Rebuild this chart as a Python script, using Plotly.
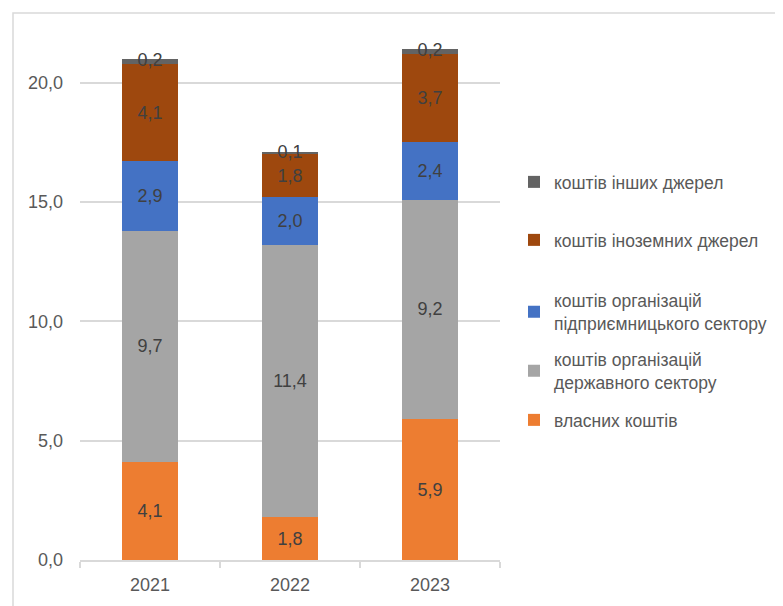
import plotly.graph_objects as go

years = ["2021", "2022", "2023"]
own = [4.1, 1.8, 5.9]
state = [9.7, 11.4, 9.2]
business = [2.9, 2.0, 2.4]
foreign = [4.1, 1.8, 3.7]
other = [0.2, 0.1, 0.2]

names = ["власних коштів",
         "коштів організацій<br>державного сектору",
         "коштів організацій<br>підприємницького сектору",
         "коштів іноземних джерел",
         "коштів інших джерел"]
series = [own, state, business, foreign, other]
colors = ["#ED7D31", "#A5A5A5", "#4472C4", "#9E480E", "#636363"]

FONT = "Liberation Sans"
TXT = "#404040"
W, H = 783, 606
OFF = 8  # page body margin offset
L, T = 80 - OFF, 35 - OFF
R = W - (500 - OFF)
B = H - (560 - OFF)

fig = go.Figure()
legend_ids = ["legend5", "legend4", "legend3", "legend2", "legend"]
legend_y = [420, 371, 312, 240, 182]

for i, (nm, vals, col) in enumerate(zip(names, series, colors)):
    is_small = i == 4
    fig.add_trace(go.Bar(
        x=years, y=vals, name=nm, marker=dict(color=col, line=dict(width=0)),
        texttemplate=None if is_small else "%{y:.1f}",
        textposition="none" if is_small else "inside",
        insidetextanchor="middle", textangle=0,
        textfont=dict(family=FONT, size=18, color=TXT),
        legend=legend_ids[i], hoverinfo="skip",
    ))

# labels for the thin top segment, centred on it
base = [sum(s[j] for s in series[:4]) for j in range(3)]
fig.add_trace(go.Scatter(
    x=years, y=[b + o / 2 for b, o in zip(base, other)],
    mode="text", text=[f"{v:.1f}".replace(".", ",") for v in other],
    textposition="middle center",
    textfont=dict(family=FONT, size=18, color=TXT),
    showlegend=False, hoverinfo="skip",
))

layout_legends = {}
for lid, ly in zip(legend_ids, legend_y):
    layout_legends[lid] = dict(
        x=(514 - OFF) / W, y=1 - (ly - OFF) / H, xref="container", yref="container",
        xanchor="left", yanchor="middle",
        font=dict(family=FONT, size=17.5, color="#595959"),
        bgcolor="rgba(0,0,0,0)", itemwidth=30,
    )

pw = W - L - R
ph = H - T - B
fig.update_layout(
    width=W, height=H,
    margin=dict(l=L, r=R, t=T, b=B, autoexpand=False),
    paper_bgcolor="white", plot_bgcolor="white",
    barmode="stack", bargap=0.6,
    separators=", ",
    showlegend=True,
    font=dict(family=FONT, color="#595959"),
    xaxis=dict(
        showline=True, linecolor="#D9D9D9", linewidth=1.5,
        ticks="outside", tickson="boundaries", ticklen=6,
        tickcolor="#D9D9D9", tickwidth=1.5,
        tickfont=dict(family=FONT, size=18, color="#595959"),
        showgrid=False, automargin=False, ticklabelstandoff=8,
    ),
    yaxis=dict(
        range=[0, 22], tickvals=[0, 5, 10, 15, 20], tickformat=".1f",
        showgrid=True, gridcolor="#D9D9D9", gridwidth=1.5,
        zeroline=False, showline=False, ticks="",
        tickfont=dict(family=FONT, size=18, color="#595959"),
        ticklabelstandoff=16, automargin=False,
    ),
    shapes=[dict(
        type="rect", xref="paper", yref="paper",
        x0=(13 - OFF - L) / pw, x1=2.0,
        y0=-0.5, y1=1 + (T - (13 - OFF)) / ph,
        line=dict(color="#D9D9D9", width=1.5), fillcolor="rgba(0,0,0,0)",
        layer="below",
    )],
    **layout_legends,
)

fig.write_html("out.html")
